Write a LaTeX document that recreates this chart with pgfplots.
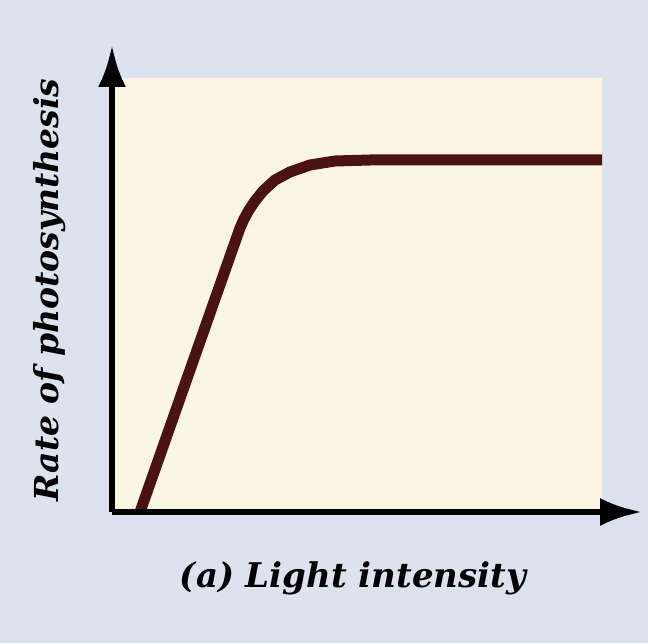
\documentclass[border=0pt]{standalone}
\usepackage{pgfplots}
\pgfplotsset{compat=1.18}
\usepackage{fontspec}
\setmainfont{DejaVu Serif}
\usetikzlibrary{arrows.meta}
\definecolor{bgblue}{HTML}{DCE3EF}
\definecolor{cream}{HTML}{FBF6E4}
\definecolor{maroon}{HTML}{4A1212}
\begin{document}
\begin{tikzpicture}
\begin{axis}[
  scale only axis,
  width=530pt, height=467pt,
  xmin=0, xmax=530, ymin=0, ymax=467,
  axis lines=left,
  axis line style={line width=6.5pt, black, -{Latex[length=42pt,width=28pt]}},
  xtick=\empty, ytick=\empty,
  clip=false,
  axis on top,
]
\fill[bgblue] (axis cs:-112,-131) rectangle (axis cs:536,512);
\fill[cream] (axis cs:0,0) rectangle (axis cs:490,434);
\addplot[maroon, line width=11pt, line join=round, line cap=butt] coordinates {
 (28,0) (128,284) (132,293) (137,302) (143,311) (151,321) (163,332) (178,340)
 (198,347) (223,351) (258,352) (490,352)
};
\node[rotate=90, font=\fontsize{33}{36}\selectfont\bfseries\itshape] at (axis cs:-62,222) {Rate of photosynthesis};
\node[font=\fontsize{34}{38}\selectfont\bfseries\itshape] at (axis cs:241,-66) {(a) Light intensity};
\end{axis}
\end{tikzpicture}
\end{document}
